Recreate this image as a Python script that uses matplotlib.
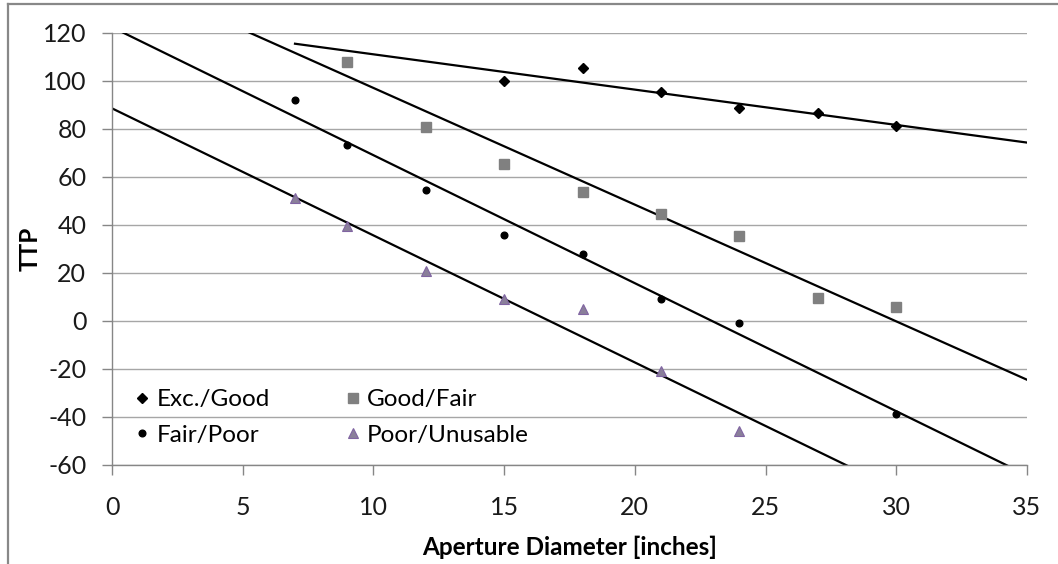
import numpy as np
import matplotlib
matplotlib.use('Agg')
import matplotlib.pyplot as plt
from matplotlib.lines import Line2D

plt.rcParams['font.family'] = ['Lato', 'DejaVu Sans']
plt.rcParams['axes.unicode_minus'] = False

# Data
exc_x = [15, 18, 21, 24, 27, 30]
exc_y = [100, 105.2, 95.2, 88.5, 86.7, 81.3]

good_x = [9, 12, 15, 18, 21, 24, 27, 30]
good_y = [107.9, 80.6, 65.3, 53.6, 44.5, 35.3, 9.6, 5.8]

fair_x = [7, 9, 12, 15, 18, 21, 24, 30]
fair_y = [91.8, 73.1, 54.6, 35.8, 27.9, 9.2, -0.7, -38.9]

poor_x = [7, 9, 12, 15, 18, 21, 24]
poor_y = [51, 39.6, 20.8, 9, 5, -20.8, -45.8]

# linear trend lines (slope, intercept, x range) as drawn in the chart
trend_slope = [-1.47, -4.86, -5.33, -5.29]
trend_intercept = [125.7, 145.6, 122.3, 88.5]
trend_xstart = [7, 0, 0, 0]
trend_xend = [35, 35, 35, 35]

x_ticks = [0, 5, 10, 15, 20, 25, 30, 35]
y_ticks = [-60, -40, -20, 0, 20, 40, 60, 80, 100, 120]

fig = plt.figure(figsize=(10.58, 5.64), dpi=100)
ax = fig.add_axes([112 / 1058, 99 / 564, 915 / 1058, 432.3 / 564])

# trend lines first, markers on top
for s, b, x0, x1 in zip(trend_slope, trend_intercept, trend_xstart, trend_xend):
    xs = np.array([x0, x1])
    ax.plot(xs, s * xs + b, color='black', lw=1.6, zorder=2)

h_exc, = ax.plot(exc_x, exc_y, 'D', color='black', ms=5.2, ls='none', zorder=3, label='Exc./Good')
h_good, = ax.plot(good_x, good_y, 's', color='#808080', ms=6.5, ls='none', zorder=3, label='Good/Fair')
h_fair, = ax.plot(fair_x, fair_y, 'o', color='black', ms=4.8, ls='none', zorder=3, label='Fair/Poor')
h_poor, = ax.plot(poor_x, poor_y, '^', mfc='#8a7f9a', mec='#8064A2', mew=0.8, ms=7.5,
                  ls='none', zorder=3, label='Poor/Unusable')

ax.set_xlim(0, 35)
ax.set_ylim(-60, 120)
ax.set_xticks(x_ticks)
ax.set_yticks(y_ticks)

ax.yaxis.grid(True, color='#a6a6a6', lw=1)
ax.set_axisbelow(True)
for side in ['top', 'right']:
    ax.spines[side].set_visible(False)
for side in ['left', 'bottom']:
    ax.spines[side].set_color('#868686')
    ax.spines[side].set_linewidth(1)

ax.tick_params(axis='x', direction='out', length=7, width=1, color='#868686',
               pad=15, labelsize=18, labelcolor='#1a1a1a')
ax.tick_params(axis='y', direction='out', length=7.5, width=1, color='#868686',
               pad=11, labelsize=18, labelcolor='#1a1a1a')

ax.set_xlabel('Aperture Diameter [inches]', fontsize=17.5, fontweight='bold', labelpad=12)
ax.set_ylabel('TTP', fontsize=17.5, fontweight='bold')
ax.yaxis.set_label_coords(-0.077, 0.5)

ax.legend(handles=[h_exc, h_fair, h_good, h_poor], ncol=2, loc='upper left',
          bbox_to_anchor=(0.025, 0.175), frameon=False, fontsize=17.5,
          handlelength=0.6, handletextpad=0.3, columnspacing=3.1,
          labelspacing=0.6, borderpad=0, borderaxespad=0)

# chart area border (left and top edges visible in the reference)
fig.add_artist(Line2D([7.5 / 1058, 7.5 / 1058], [0, 1 - 4 / 564], color='#888888', lw=1.6))
fig.add_artist(Line2D([7.5 / 1058, 1], [1 - 4 / 564, 1 - 4 / 564], color='#888888', lw=1.6))

fig.savefig('out.png', dpi=100)
